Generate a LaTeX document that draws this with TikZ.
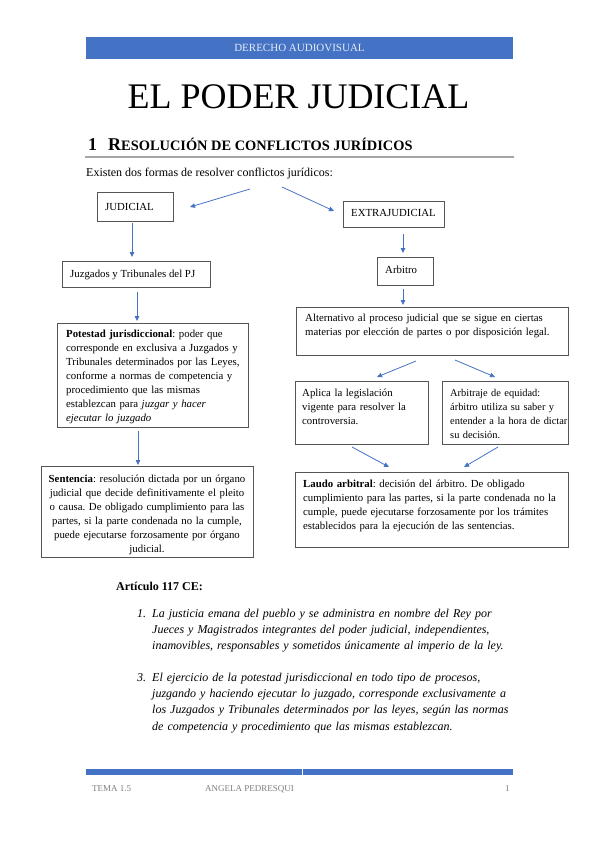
\documentclass[tikz,border=0pt]{standalone}
\usepackage{fontspec}
\setmainfont{Liberation Serif}
\usetikzlibrary{arrows.meta}
\definecolor{accent}{HTML}{4472C4}
\definecolor{boxline}{HTML}{555555}
\definecolor{footgray}{HTML}{7F7F7F}
\definecolor{rulegray}{HTML}{A6A6A6}
\definecolor{headtxt}{HTML}{E6ECF7}
\frenchspacing
\begin{document}
\begin{tikzpicture}[x=1pt,y=-1pt,
  frame/.style={draw=boxline, line width=0.9pt, inner sep=0pt},
  txt/.style={inner sep=0pt, anchor=base west, align=left, font=\fontsize{10.8}{14}\selectfont},
  arr/.style={draw=accent, line width=0.8pt, -{Triangle[length=5pt,width=4.5pt]}},
  body/.style={inner sep=0pt, anchor=base west, font=\fontsize{12}{14}\selectfont}]
\useasboundingbox[fill=white] (0,0) rectangle (599,848);

% header
\fill[accent] (86,37) rectangle (513,59);
\node[inner sep=0pt, anchor=base, text=headtxt, font=\fontsize{11}{13}\selectfont] (head) at (299.5,52) {DERECHO AUDIOVISUAL};

% title
\node[inner sep=0pt, anchor=base, font=\fontsize{36}{40}\selectfont] (title) at (298.5,109) {EL PODER JUDICIAL};

% section heading
\node[inner sep=0pt, anchor=base west, font=\bfseries\fontsize{18}{20}\selectfont] (secnum) at (88,150) {1};
\node[inner sep=0pt, anchor=base west, font=\bfseries] (sec) at (108,150) {\fontsize{18}{20}\selectfont R\fontsize{14.4}{16}\selectfont ESOLUCIÓN DE CONFLICTOS JURÍDICOS};
\draw[rulegray, line width=1.2pt] (85,157) -- (514,157);

\node[body] (intro) at (86,176) {Existen dos formas de resolver conflictos jurídicos:};

% boxes (centres and sizes)
\node[frame, minimum width=76, minimum height=29] (jud) at (135,206.5) {};
\node[txt] (judt) at (105,210) {JUDICIAL};

\node[frame, minimum width=101, minimum height=26] (ext) at (393.5,214) {};
\node[txt] (extt) at (351,216.5) {EXTRAJUDICIAL};

\node[frame, minimum width=148, minimum height=26] (juz) at (136,274) {};
\node[txt] (juzt) at (70,277.5) {Juzgados y Tribunales del PJ};

\node[frame, minimum width=56, minimum height=28] (arb) at (405,271) {};
\node[txt] (arbt) at (385,273) {Arbitro};

\node[frame, minimum width=191, minimum height=104] (pot) at (152.5,375) {};
\node[txt, text width=220] (pott) at (66,337) {\textbf{Potestad jurisdiccional}: poder que\\
corresponde en exclusiva a Juzgados y\\
Tribunales determinados por las Leyes,\\
conforme a normas de competencia y\\
procedimiento que las mismas\\
establezcan para \textit{juzgar y hacer}\\
\textit{ejecutar lo juzgado}};

\node[frame, minimum width=212, minimum height=91] (sen) at (147,511.5) {};
\node[txt, anchor=base, align=center, text width=240] (sent) at (147,482) {\textbf{Sentencia}: resolución dictada por un órgano\\
judicial que decide definitivamente el pleito\\
o causa. De obligado cumplimiento para las\\
partes, si la parte condenada no la cumple,\\
puede ejecutarse forzosamente por órgano\\
judicial.};

\node[frame, minimum width=272, minimum height=48] (alt) at (432,331) {};
\node[txt, text width=300] (altt) at (305,321.5) {Alternativo al proceso judicial que se sigue en ciertas\\
materias por elección de partes o por disposición legal.};

\node[frame, minimum width=133, minimum height=63] (apl) at (361.5,412.5) {};
\node[txt, text width=160] (aplt) at (302,396) {Aplica la legislación\\
vigente para resolver la\\
controversia.};

\node[frame, minimum width=126, minimum height=63] (equ) at (505,412.5) {};
\node[txt, text width=160, font=\fontsize{10.4}{14}\selectfont] (equt) at (450,396) {Arbitraje de equidad:\\
árbitro utiliza su saber y\\
entender a la hora de dictar\\
su decisión.};

\node[frame, minimum width=273, minimum height=75] (lau) at (431.5,509.5) {};
\node[txt, text width=300] (laut) at (303,487) {\textbf{Laudo arbitral}: decisión del árbitro. De obligado\\
cumplimiento para las partes, si la parte condenada no la\\
cumple, puede ejecutarse forzosamente por los trámites\\
establecidos para la ejecución de las sentencias.};

% connector end points
\coordinate (a1s) at (250,189); \coordinate (a1e) at (190,207);
\coordinate (a2s) at (282,187); \coordinate (a2e) at (334,211);
\coordinate (a3s) at (132,223); \coordinate (a3e) at (132,257);
\coordinate (a4s) at (403,234); \coordinate (a4e) at (403,253);
\coordinate (a5s) at (137,292); \coordinate (a5e) at (137,321);
\coordinate (a6s) at (403,289); \coordinate (a6e) at (403,305);
\coordinate (a7s) at (138,431); \coordinate (a7e) at (138,465);
\coordinate (a8s) at (416,361); \coordinate (a8e) at (377,377);
\coordinate (a9s) at (455,360); \coordinate (a9e) at (495,377);
\coordinate (a10s) at (352,447); \coordinate (a10e) at (389,467);
\coordinate (a11s) at (498,447); \coordinate (a11e) at (464,467);
\foreach \i in {1,...,11} {\draw[arr] (a\i s) -- (a\i e);}

% article
\node[body, font=\bfseries\fontsize{12}{14}\selectfont] (art) at (116,590) {Artículo 117 CE:};
\node[body, font=\itshape\fontsize{12}{14}\selectfont] (n1) at (137,617) {1.};
\node[body, text width=420, align=left, font=\itshape\fontsize{12}{16.4}\selectfont] (it1) at (152,617) {La justicia emana del pueblo y se administra en nombre del Rey por\\
Jueces y Magistrados integrantes del poder judicial, independientes,\\
inamovibles, responsables y sometidos únicamente al imperio de la ley.};
\node[body, font=\itshape\fontsize{12}{14}\selectfont] (n3) at (137,681) {3.};
\node[body, text width=420, align=left, font=\itshape\fontsize{12}{16.4}\selectfont] (it3) at (152,681) {El ejercicio de la potestad jurisdiccional en todo tipo de procesos,\\
juzgando y haciendo ejecutar lo juzgado, corresponde exclusivamente a\\
los Juzgados y Tribunales determinados por las leyes, según las normas\\
de competencia y procedimiento que las mismas establezcan.};

% footer
\fill[accent] (86,769) rectangle (301.5,775);
\fill[accent] (302.5,769) rectangle (513,775);
\node[inner sep=0pt, anchor=base west, text=footgray, font=\fontsize{9}{11}\selectfont] (f1) at (92,791) {TEMA 1.5};
\node[inner sep=0pt, anchor=base west, text=footgray, font=\fontsize{9}{11}\selectfont] (f2) at (205,791) {ANGELA PEDRESQUI};
\node[inner sep=0pt, anchor=base west, text=footgray, font=\fontsize{9}{11}\selectfont] (f3) at (505,791) {1};
\end{tikzpicture}
\end{document}
